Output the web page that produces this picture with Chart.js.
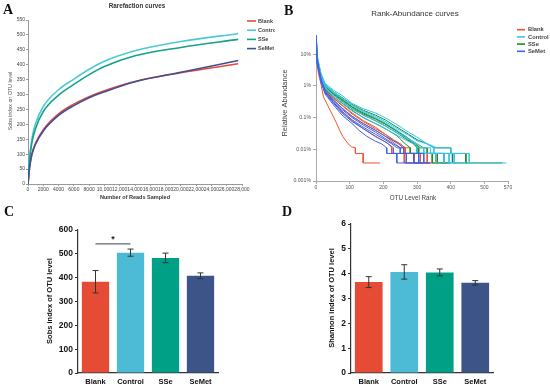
<!DOCTYPE html>
<html>
<head>
<meta charset="utf-8">
<script src="https://cdn.jsdelivr.net/npm/chart.js@4.4.0/dist/chart.umd.min.js"></script>
<style>
body { margin: 0; background: #fff; width: 550px; height: 389px; position: relative; overflow: hidden; }
canvas { position: absolute; }
</style>
</head>
<body>
<canvas id="chartA" width="275" height="200" style="left:0;top:0"></canvas>
<canvas id="chartB" width="275" height="200" style="left:275px;top:0"></canvas>
<canvas id="chartC" width="275" height="189" style="left:0;top:200px"></canvas>
<canvas id="chartD" width="275" height="189" style="left:275px;top:200px"></canvas>
<script>
// groups and colours
const groups = ['Blank', 'Control', 'SSe', 'SeMet'];

// A: rarefaction curves (reads sampled -> Sobs)
const rareReads   = [0, 200, 500, 1000, 2000, 4000, 6000, 8000, 10000, 14000, 20000, 27500];
const rareBlank   = [0, 55, 100, 137, 182, 235, 268, 293, 313, 344, 373, 403];
const rareControl = [0, 85, 150, 204, 260, 316, 352, 385, 412, 447, 478, 504];
const rareSSe     = [0, 78, 138, 187, 243, 298, 334, 367, 394, 430, 458, 485];
const rareSeMet   = [0, 53, 98, 134, 178, 230, 263, 289, 309, 343, 375, 414];
const xTickLabelsA = ['0', '2000', '4000', '6000', '8000', '10,000', '12,000', '14,000', '16,000',
  '18,000', '20,000', '22,000', '24,000', '26,000', '28,000'];

// B: rank-abundance curves, one [rank, % abundance] list per sample
const rankBlank = [
  [[1,15],[3,5],[7,2.5],[15,1.1],[22,0.45],[42,0.17],[60,0.07],[70,0.04],[80,0.025],[95,0.015],[105,0.012],[117,0.0111],[117,0.0074],[140,0.0074],[140,0.0037],[190,0.0037]],
  [[1,25],[3,7],[7,4.2],[15,1.6],[27,0.75],[52,0.4],[77,0.24],[107,0.13],[140,0.075],[176,0.045],[205,0.03],[230,0.0185],[250,0.0148],[265,0.0111],[265,0.0074],[292,0.0074],[292,0.0037],[330,0.0037]],
  [[1,30],[3,7.5],[7,4.3],[15,1.6],[27,0.7],[52,0.36],[77,0.2],[107,0.11],[140,0.065],[176,0.04],[205,0.026],[235,0.0148],[250,0.0111],[280,0.0111],[280,0.0074],[330,0.0074],[330,0.0037],[364,0.0037]],
  [[1,20],[3,6],[7,3.8],[15,1.4],[27,0.6],[52,0.3],[77,0.15],[107,0.08],[140,0.045],[176,0.025],[200,0.0185],[215,0.0148],[225,0.0111],[225,0.0074],[262,0.0074],[262,0.0037],[300,0.0037]],
  [[1,35],[3,8],[7,4.5],[15,1.7],[27,0.8],[52,0.42],[77,0.25],[107,0.14],[140,0.08],[176,0.05],[205,0.03],[230,0.02],[250,0.0148],[265,0.0111],[265,0.0074],[310,0.0074],[310,0.0037],[340,0.0037]]
];
const rankControl = [
  [[1,40],[3,10],[7,6],[15,2.5],[27,1.2],[52,0.73],[77,0.5],[107,0.28],[140,0.19],[176,0.14],[205,0.1],[240,0.06],[274,0.035],[300,0.024],[330,0.0148],[360,0.0111],[400,0.0111],[400,0.0074],[455,0.0074],[455,0.0037],[565,0.0037]],
  [[1,30],[3,8],[7,5],[15,2],[27,1],[52,0.6],[77,0.4],[107,0.24],[140,0.16],[176,0.11],[205,0.075],[240,0.045],[274,0.028],[300,0.0185],[330,0.0148],[350,0.0111],[350,0.0074],[410,0.0074],[410,0.0037],[455,0.0037]],
  [[1,20],[3,7],[7,4.5],[15,1.8],[27,0.9],[52,0.5],[77,0.32],[107,0.19],[140,0.12],[176,0.08],[205,0.055],[240,0.033],[270,0.022],[300,0.0148],[320,0.0111],[320,0.0074],[395,0.0074],[395,0.0037],[420,0.0037]],
  [[1,38],[3,9],[7,5.5],[15,2.2],[27,1.1],[52,0.65],[77,0.42],[107,0.25],[140,0.15],[176,0.1],[205,0.068],[240,0.04],[270,0.024],[300,0.0148],[320,0.0111],[340,0.0111],[340,0.0074],[380,0.0074],[380,0.0037],[400,0.0037]],
  [[1,15],[3,6],[7,4],[15,1.7],[27,0.85],[52,0.45],[77,0.28],[107,0.16],[140,0.1],[176,0.065],[205,0.045],[240,0.028],[270,0.0185],[290,0.0148],[300,0.0111],[300,0.0074],[355,0.0074],[355,0.0037],[372,0.0037]]
];
const rankSSe = [
  [[1,25],[3,8],[7,5],[15,2.2],[27,1.1],[52,0.65],[77,0.43],[107,0.26],[140,0.17],[176,0.12],[205,0.085],[240,0.05],[274,0.03],[300,0.02],[330,0.0148],[350,0.0111],[400,0.0111],[400,0.0074],[445,0.0074],[445,0.0037],[553,0.0037]],
  [[1,18],[3,6.5],[7,4.5],[15,1.9],[27,0.95],[52,0.55],[77,0.36],[107,0.21],[140,0.13],[176,0.09],[205,0.062],[240,0.037],[270,0.024],[295,0.0148],[310,0.0111],[330,0.0111],[330,0.0074],[405,0.0074],[405,0.0037],[449,0.0037]],
  [[1,30],[3,8.5],[7,5],[15,2],[27,1],[52,0.58],[77,0.38],[107,0.22],[140,0.14],[176,0.095],[205,0.065],[240,0.038],[270,0.022],[290,0.0148],[300,0.0111],[300,0.0074],[380,0.0074],[380,0.0037],[402,0.0037]],
  [[1,12],[3,5.5],[7,3.8],[15,1.6],[27,0.8],[52,0.45],[77,0.29],[107,0.17],[140,0.1],[176,0.065],[205,0.045],[240,0.027],[265,0.0148],[280,0.0111],[280,0.0074],[345,0.0074],[345,0.0037],[390,0.0037]],
  [[1,22],[3,7],[7,4.6],[15,1.9],[27,0.95],[52,0.52],[77,0.33],[107,0.19],[140,0.12],[176,0.08],[205,0.055],[240,0.033],[270,0.02],[290,0.0148],[305,0.0111],[305,0.0074],[360,0.0074],[360,0.0037],[398,0.0037]]
];
const rankSeMet = [
  [[1,20],[3,6],[7,4],[15,1.6],[27,0.7],[52,0.35],[77,0.2],[107,0.11],[140,0.065],[176,0.04],[205,0.026],[230,0.0185],[245,0.0148],[260,0.0111],[260,0.0074],[290,0.0074],[290,0.0037],[335,0.0037]],
  [[1,35],[3,7],[7,4.2],[15,1.5],[27,0.65],[52,0.3],[77,0.16],[107,0.085],[140,0.05],[176,0.03],[205,0.02],[225,0.0148],[240,0.0111],[260,0.0111],[260,0.0074],[305,0.0074],[305,0.0037],[320,0.0037]],
  [[1,28],[3,6],[7,3.5],[15,1.3],[27,0.55],[52,0.25],[77,0.12],[107,0.065],[127,0.04],[150,0.026],[176,0.018],[195,0.0148],[210,0.0111],[210,0.0074],[240,0.0074],[240,0.0037],[312,0.0037]],
  [[1,15],[3,5],[7,3.3],[15,1.35],[27,0.6],[52,0.28],[77,0.14],[107,0.075],[140,0.045],[176,0.026],[200,0.0185],[215,0.0148],[230,0.0111],[230,0.0074],[268,0.0074],[268,0.0037],[310,0.0037]],
  [[1,40],[3,8],[7,4.5],[15,1.6],[27,0.7],[52,0.33],[77,0.18],[107,0.1],[140,0.058],[176,0.035],[205,0.022],[230,0.0148],[250,0.0111],[250,0.0074],[320,0.0074],[320,0.0037],[340,0.0037]]
];
const yTicksB = [10, 1, 0.1, 0.01, 0.001];
const yTickLabelsB = ['10%', '1%', '0.1%', '0.01%', '0.001%'];

// C and D: alpha diversity, mean and error
const sobsMean = [383, 505, 483, 408];
const sobsErr = [47, 15, 20, 12];
const shannonMean = [3.66, 4.07, 4.05, 3.63];
const shannonErr = [0.22, 0.29, 0.14, 0.09];

const lineColorsA = ['#e8463a', '#4cc9d9', '#17a187', '#3f4f98'];
const lineColorsB = ['#f4512c', '#35c4f0', '#1f8c1f', '#3c64e6'];
const barColors = ['#e64b35', '#4dbbd5', '#00a087', '#3c5488'];

Chart.defaults.font.family = 'Arial, "Liberation Sans", sans-serif';
Chart.defaults.animation = false;

// texts and line legends drawn at fixed spots
const decor = {
  id: 'decor',
  afterDraw(chart, args, o) {
    const ctx = chart.ctx;
    (o.texts || []).forEach(t => {
      ctx.save();
      ctx.font = t.font;
      ctx.fillStyle = t.color || '#000';
      ctx.textAlign = t.align || 'center';
      ctx.textBaseline = 'middle';
      ctx.translate(t.x, t.y);
      if (t.rot) ctx.rotate(t.rot);
      ctx.fillText(t.text, 0, 0);
      ctx.restore();
    });
    const lg = o.legend;
    if (lg) {
      lg.labels.forEach((lab, i) => {
        const y = lg.y + i * lg.dy;
        ctx.save();
        ctx.strokeStyle = lg.colors[i];
        ctx.lineWidth = lg.lw;
        ctx.beginPath();
        ctx.moveTo(lg.x, y);
        ctx.lineTo(lg.x + lg.len, y);
        ctx.stroke();
        ctx.font = lg.font;
        ctx.fillStyle = lg.color;
        ctx.textAlign = 'left';
        ctx.textBaseline = 'middle';
        ctx.fillText(lab, lg.x + lg.len + lg.gap, y);
        ctx.restore();
      });
    }
  }
};

// error bars + significance bracket for bar panels
const errBars = {
  id: 'errBars',
  afterDatasetsDraw(chart, args, o) {
    const ctx = chart.ctx, xs = chart.scales.x, ys = chart.scales.y;
    const vals = chart.data.datasets[0].data;
    ctx.save();
    ctx.strokeStyle = '#333';
    ctx.lineWidth = 1;
    vals.forEach((v, i) => {
      const x = xs.getPixelForValue(i);
      const yHi = ys.getPixelForValue(v + o.errs[i]);
      const yLo = ys.getPixelForValue(v - o.errs[i]);
      ctx.beginPath();
      ctx.moveTo(x, yLo); ctx.lineTo(x, yHi);
      ctx.moveTo(x - o.cap, yLo); ctx.lineTo(x + o.cap, yLo);
      ctx.moveTo(x - o.cap, yHi); ctx.lineTo(x + o.cap, yHi);
      ctx.stroke();
    });
    if (o.sig) {
      const y = ys.getPixelForValue(o.sig.value);
      const xa = xs.getPixelForValue(o.sig.from), xb = xs.getPixelForValue(o.sig.to);
      ctx.strokeStyle = '#666';
      ctx.lineWidth = 1.3;
      ctx.beginPath(); ctx.moveTo(xa, y); ctx.lineTo(xb, y); ctx.stroke();
      ctx.fillStyle = '#222';
      ctx.font = 'bold 9px Arial';
      ctx.textAlign = 'center';
      ctx.textBaseline = 'middle';
      ctx.fillText(o.sig.text, (xa + xb) / 2, y - 4);
    }
    ctx.restore();
  }
};

const letterFont = 'bold 14px "Liberation Serif", "Times New Roman", serif';

// ---------- A ----------
const rareSeries = [rareBlank, rareControl, rareSSe, rareSeMet];
new Chart(document.getElementById('chartA'), {
  type: 'line',
  data: {
    datasets: groups.map((g, i) => ({
      label: g,
      data: rareReads.map((r, j) => ({ x: r, y: rareSeries[i][j] })),
      borderColor: lineColorsA[i],
      borderWidth: 1.6,
      pointRadius: 0,
      cubicInterpolationMode: 'monotone',
      order: [3, 2, 1, 0][i]
    }))
  },
  options: {
    responsive: false,
    devicePixelRatio: 1,
    layout: { padding: { left: 0, right: 33, top: 20, bottom: 0 } },
    plugins: {
      legend: { display: false },
      tooltip: { enabled: false },
      decor: {
        texts: [
          { text: 'A', x: 3, y: 10, font: letterFont, align: 'left', color: '#111' },
          { text: 'Rarefaction curves', x: 137, y: 6, font: 'bold 6.3px Arial', color: '#333' },
          { text: 'Sobs index on OTU level', x: 11, y: 101, font: '5.3px Arial', color: '#555', rot: -Math.PI / 2 },
          { text: 'Number of Reads Sampled', x: 135, y: 197, font: 'bold 5.5px Arial', color: '#333' }
        ],
        legend: { labels: groups, colors: lineColorsA, x: 247, y: 21, dy: 9.2, len: 9, gap: 2, lw: 1.6,
          font: 'bold 5.5px Arial', color: '#444' }
      }
    },
    scales: {
      x: {
        type: 'linear', min: 0, max: 28000,
        ticks: { stepSize: 2000, autoSkip: false, maxRotation: 0, font: { size: 5 }, color: '#444', padding: 1,
          callback: (v, i) => xTickLabelsA[i] },
        grid: { display: true, drawOnChartArea: false, drawTicks: true, tickLength: 2, color: '#999' },
        border: { color: '#999', width: 1 },
        afterFit(s) { s.height = 16; }
      },
      y: {
        min: 0, max: 550,
        ticks: { stepSize: 50, font: { size: 5 }, color: '#444', padding: 1 },
        grid: { display: true, drawOnChartArea: false, drawTicks: true, tickLength: 2, color: '#999' },
        border: { color: '#999', width: 1 },
        afterFit(s) { s.width = 28; }
      }
    }
  },
  plugins: [decor]
});

// ---------- B ----------
const rankSeries = [rankBlank, rankControl, rankSSe, rankSeMet];
const dsB = [];
groups.forEach((g, gi) => {
  rankSeries[gi].forEach(sample => {
    dsB.push({
      label: g,
      data: sample.map(p => ({ x: p[0], y: p[1] })),
      borderColor: lineColorsB[gi],
      borderWidth: 1,
      pointRadius: 0,
      order: [3, 1, 2, 0][gi]
    });
  });
});
new Chart(document.getElementById('chartB'), {
  type: 'line',
  data: { datasets: dsB },
  options: {
    responsive: false,
    devicePixelRatio: 1,
    layout: { padding: { left: 0, right: 42, top: 35, bottom: 0 } },
    plugins: {
      legend: { display: false },
      tooltip: { enabled: false },
      decor: {
        texts: [
          { text: 'B', x: 9, y: 11, font: letterFont, align: 'left', color: '#111' },
          { text: 'Rank-Abundance curves', x: 140, y: 14, font: '8px Arial', color: '#333' },
          { text: 'Relative Abundance', x: 10, y: 103, font: '7.5px Arial', color: '#444', rot: -Math.PI / 2 },
          { text: 'OTU Level Rank', x: 138, y: 198, font: '6.3px Arial', color: '#444' }
        ],
        legend: { labels: groups, colors: lineColorsB, x: 242, y: 29.7, dy: 7.2, len: 8, gap: 3, lw: 1.6,
          font: 'bold 5.8px Arial', color: '#444' }
      }
    },
    scales: {
      x: {
        type: 'linear', min: 0, max: 570,
        ticks: { stepSize: 100, font: { size: 5 }, color: '#555', padding: 1, maxRotation: 0 },
        grid: { display: true, drawOnChartArea: false, drawTicks: true, tickLength: 3, color: '#aaa' },
        border: { color: '#aaa', width: 1 },
        afterFit(s) { s.height = 19; }
      },
      y: {
        type: 'logarithmic', min: 0.001, max: 40,
        afterBuildTicks(s) { s.ticks = yTicksB.map(v => ({ value: v })); },
        ticks: { font: { size: 5.2 }, color: '#555', padding: 2,
          callback: v => yTickLabelsB[yTicksB.indexOf(v)] },
        grid: { display: true, drawOnChartArea: false, drawTicks: true, tickLength: 3, color: '#aaa' },
        border: { color: '#aaa', width: 1 },
        afterFit(s) { s.width = 41; }
      }
    }
  },
  plugins: [decor]
});

// ---------- C and D ----------
function barPanel(id, means, errs, yMax, step, padTop, yWidth, sig, texts) {
  return new Chart(document.getElementById(id), {
    type: 'bar',
    data: {
      labels: groups,
      datasets: [{ data: means, backgroundColor: barColors, borderWidth: 0,
        barPercentage: 0.78, categoryPercentage: 1 }]
    },
    options: {
      responsive: false,
      devicePixelRatio: 1,
      layout: { padding: { left: 0, right: 57, top: padTop, bottom: 0 } },
      plugins: {
        legend: { display: false },
        tooltip: { enabled: false },
        errBars: { errs: errs, cap: 3, sig: sig },
        decor: { texts: texts }
      },
      scales: {
        x: {
          ticks: { font: { size: 7.5, weight: 'bold' }, color: '#111', padding: 4 },
          grid: { display: false, drawTicks: false },
          border: { color: '#333', width: 1.2 },
          afterFit(s) { s.height = 16; }
        },
        y: {
          min: 0, max: yMax,
          ticks: { stepSize: step, font: { size: 8.5, weight: 'bold' }, color: '#111', padding: 2 },
          grid: { display: true, drawOnChartArea: false, drawTicks: true, tickLength: 3, color: '#333' },
          border: { color: '#333', width: 1.2 },
          afterFit(s) { s.width = yWidth; }
        }
      }
    },
    plugins: [errBars, decor]
  });
}

barPanel('chartC', sobsMean, sobsErr, 600, 100, 30, 78,
  { from: 0, to: 1, value: 542, text: '*' },
  [
    { text: 'C', x: 4, y: 12, font: letterFont, align: 'left', color: '#111' },
    { text: 'Sobs index of OTU level', x: 50, y: 101, font: 'bold 7.5px Arial', color: '#111', rot: -Math.PI / 2 }
  ]);

barPanel('chartD', shannonMean, shannonErr, 6, 1, 24, 76, null,
  [
    { text: 'D', x: 7, y: 12, font: letterFont, align: 'left', color: '#111' },
    { text: 'Shannon index of OTU level', x: 57, y: 98, font: 'bold 7.5px Arial', color: '#111', rot: -Math.PI / 2 }
  ]);
</script>
</body>
</html>
